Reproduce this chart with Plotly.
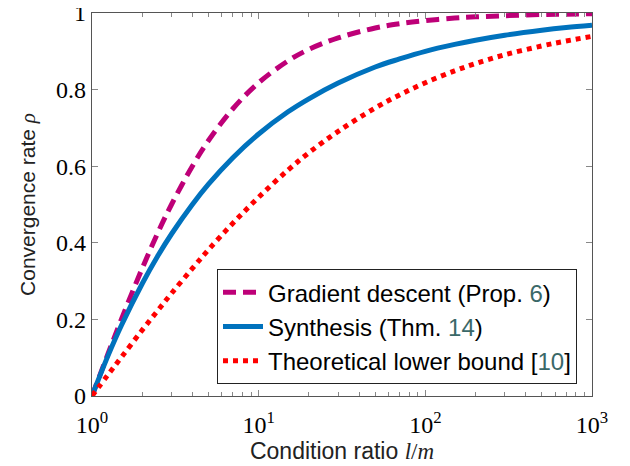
import plotly.graph_objects as go

kappa = [1, 1.25, 1.5, 2, 2.5, 3, 4, 5, 7, 10, 15, 20, 30, 50, 70, 100, 150, 200, 300, 500, 700, 1000]
gd = [0, 0.111, 0.2, 0.333, 0.429, 0.5, 0.6, 0.667, 0.75, 0.818, 0.875, 0.905, 0.935, 0.961, 0.972, 0.980, 0.987, 0.990, 0.993, 0.996, 0.997, 0.998]
synth = [0, 0.106, 0.184, 0.293, 0.368, 0.423, 0.5, 0.553, 0.622, 0.684, 0.742, 0.776, 0.817, 0.859, 0.880, 0.9, 0.918, 0.929, 0.942, 0.955, 0.962, 0.968]
lower = [0, 0.056, 0.101, 0.172, 0.225, 0.268, 0.333, 0.382, 0.451, 0.519, 0.590, 0.635, 0.691, 0.752, 0.786, 0.818, 0.849, 0.868, 0.891, 0.914, 0.927, 0.939]

xtick_vals = [1, 10, 100, 1000]
xtick_text = ["10<sup>0</sup>", "10<sup>1</sup>", "10<sup>2</sup>", "10<sup>3</sup>"]
ytick_vals = [0, 0.2, 0.4, 0.6, 0.8, 1]
ytick_text = ["0", "0.2", "0.4", "0.6", "0.8", "1"]

REF = "#3a6868"
SANS = "Liberation Sans"
SERIF = "Liberation Serif"

fig = go.Figure()
fig.add_trace(go.Scatter(x=kappa, y=gd, mode="lines", line=dict(color="#BE0078", width=5, dash="13px,7px", shape="spline"),
                         name=f'Gradient descent (Prop. <span style="color:{REF}">6</span>)'))
fig.add_trace(go.Scatter(x=kappa, y=synth, mode="lines", line=dict(color="#0072BD", width=5, shape="spline"),
                         name=f'Synthesis (Thm. <span style="color:{REF}">14</span>)'))
fig.add_trace(go.Scatter(x=kappa, y=lower, mode="lines", line=dict(color="#FF0000", width=5, dash="5px,5px", shape="spline"),
                         name=f'Theoretical lower bound [<span style="color:{REF}">10</span>]'))

axis_common = dict(showgrid=False, zeroline=False, showline=True, linecolor="#555555", linewidth=1.3,
                   mirror="allticks", ticks="inside", ticklen=6, tickcolor="#888888", tickwidth=1,
                   tickfont=dict(family=SERIF, size=24, color="black"), automargin=False,
                   ticklabeloverflow="allow")

fig.update_xaxes(type="log", range=[0, 3], tickvals=xtick_vals, ticktext=xtick_text,
                 minor=dict(ticks="inside", ticklen=4, tickcolor="#888888", dtick="D1", showgrid=False),
                 ticklabelstandoff=7,
                 title=dict(text='Condition ratio <span style="font-family:Liberation Serif"><i>l</i>/<i>m</i></span>',
                            font=dict(family=SANS, size=23, color="#222222"), standoff=2),
                 **axis_common)
fig.update_yaxes(range=[0, 1], tickvals=ytick_vals, ticktext=ytick_text,
                 title=dict(text='Convergence rate <span style="font-family:Liberation Serif"><i>ρ</i></span>',
                            font=dict(family=SANS, size=21, color="#222222"), standoff=14),
                 **axis_common)

fig.update_layout(
    width=630, height=466,
    margin=dict(l=84, r=46, t=5, b=78),
    paper_bgcolor="white", plot_bgcolor="white",
    showlegend=True,
    legend=dict(x=0.97, y=0.031, xanchor="right", yanchor="bottom",
                bgcolor="white", bordercolor="#222222", borderwidth=1,
                font=dict(family=SANS, size=24, color="black"),
                itemwidth=40),
)

fig.write_html("out.html")
